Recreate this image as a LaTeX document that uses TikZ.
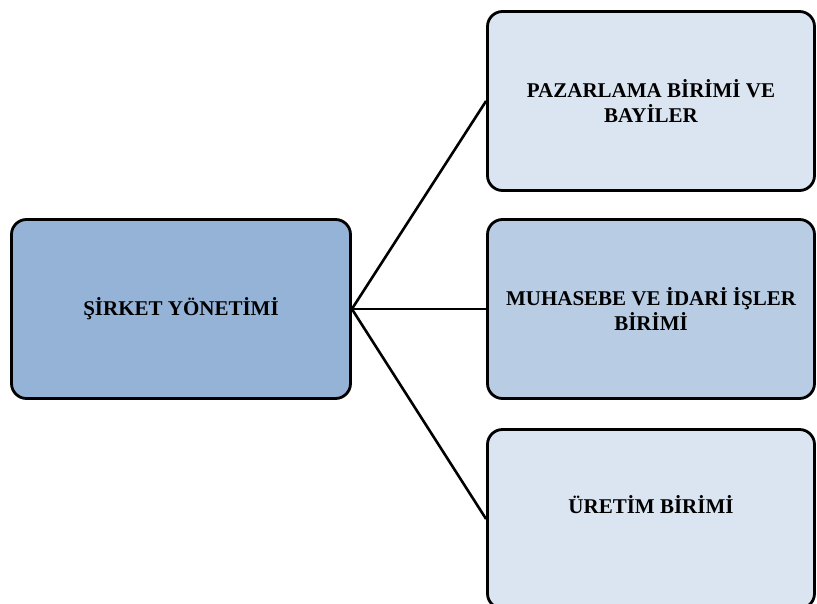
\documentclass[tikz,border=0pt]{standalone}
\usepackage{fontspec}
\setmainfont{Liberation Serif}
\definecolor{mainfill}{HTML}{95B3D7}
\definecolor{midfill}{HTML}{B8CCE4}
\definecolor{lightfill}{HTML}{DBE5F1}
\tikzset{
  box/.style={draw=black, line width=2.8pt, rounded corners=15pt, minimum width=327pt, minimum height=179pt, align=center, font=\fontsize{21}{25}\selectfont\bfseries, text=black, inner sep=0pt},
  conn/.style={draw=black, line width=2.6pt}
}
\begin{document}
\begin{tikzpicture}[x=1pt,y=1pt]
\useasboundingbox (0,0) rectangle (817,-603);
\clip (0,0) rectangle (817,-603);
\node[box, fill=mainfill, minimum width=339pt] (L) at (181,-309) {ŞİRKET YÖNETİMİ};
\node[box, fill=lightfill] (T) at (651,-101) {PAZARLAMA BİRİMİ VE\\BAYİLER};
\node[box, fill=midfill] (M) at (651,-309) {MUHASEBE VE İDARİ İŞLER\\BİRİMİ};
\node[box, fill=lightfill] (B) at (651,-519) {};
\node[font=\fontsize{21}{25}\selectfont\bfseries] (Bt) at (651,-505) {ÜRETİM BİRİMİ};
\draw[conn] (L.east) -- (T.west);
\draw[conn] (L.east) -- (M.west);
\draw[conn] (L.east) -- (B.west);
\end{tikzpicture}
\end{document}
